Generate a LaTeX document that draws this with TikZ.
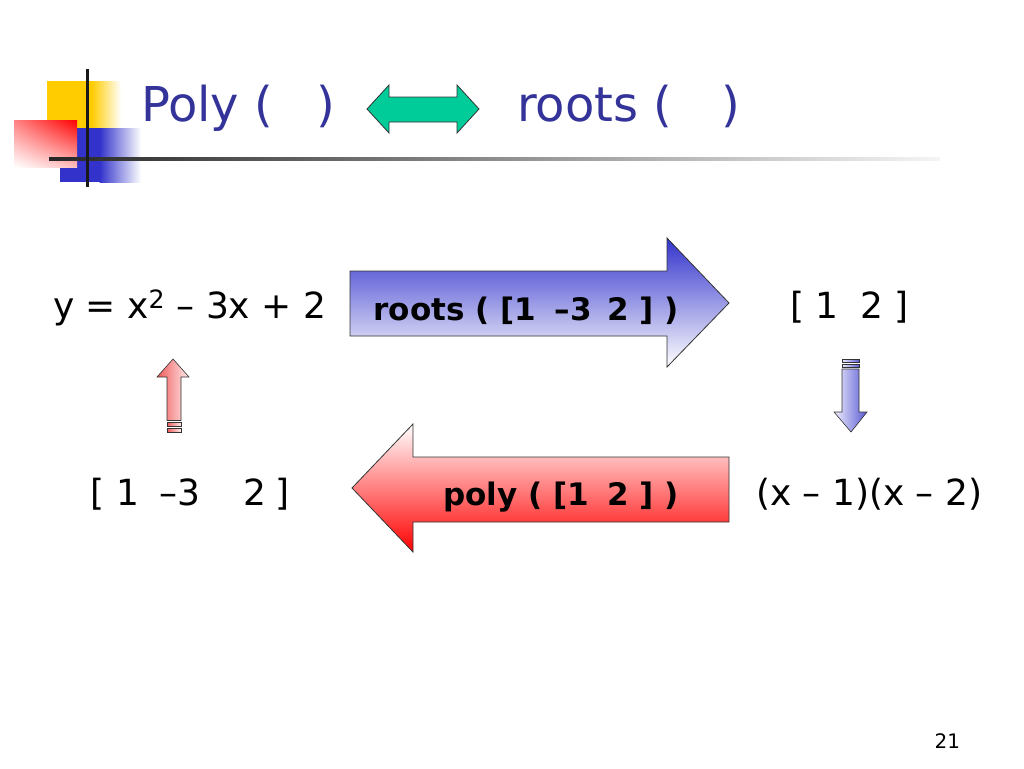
\documentclass[tikz,border=0pt]{standalone}
\usepackage{fontspec}
\usetikzlibrary{shadings}
\setmainfont{DejaVu Sans}
\definecolor{titleblue}{RGB}{51,51,153}
\definecolor{decoyellow}{RGB}{255,204,0}
\definecolor{decoblue}{RGB}{51,51,204}
\definecolor{decoredA}{RGB}{255,130,130}
\definecolor{decoredB}{RGB}{255,190,190}
\definecolor{greenarrow}{RGB}{0,204,153}
\definecolor{arrowblue}{RGB}{51,51,204}
\definecolor{smallred}{RGB}{240,90,90}
\definecolor{smallredlight}{RGB}{255,235,235}
\definecolor{smallblue}{RGB}{90,90,210}
\definecolor{smallbluelight}{RGB}{238,238,255}
\tikzset{
  txt/.style={inner sep=0pt, outer sep=0pt, anchor=base west, text=black},
  titletxt/.style={txt, text=titleblue, font=\fontsize{48}{57}\selectfont},
  mathtxt/.style={txt, font=\fontsize{36}{43}\selectfont},
  labeltxt/.style={txt, anchor=base east, font=\bfseries\fontsize{31}{37}\selectfont},
  blockarrow/.style={draw=black!80, line width=0.8pt, line join=miter},
}
\begin{document}
\begin{tikzpicture}[x=1pt,y=-1pt]
\useasboundingbox (0,0) rectangle (1024,768);
\fill[white] (0,0) rectangle (1024,768);
% --- decoration top-left
\fill[decoyellow] (47,81) rectangle (92,128);
\shade[left color=decoyellow, right color=white] (91.5,81) rectangle (121,128);
\fill[decoblue] (60,128) rectangle (100,182);
\shade[left color=decoblue, right color=white] (99.5,128) rectangle (141,182);
\shade[upper left=decoredA, upper right=red, lower left=white, lower right=decoredB]
  (14,120) rectangle (77,167);
\shade[left color=black!85, right color=black!4] (49,157.5) rectangle (940,160.5);
\fill[black!90] (85.5,69) rectangle (88.5,187);
% --- title
\node[titletxt] (polyt) at (141,121) {Poly (};
\node[titletxt, anchor=base east] (polyc) at (335,121) {)};
\draw[blockarrow, fill=greenarrow] (367,109) -- (389,85) -- (389,97) -- (457,97) -- (457,85)
  -- (479,109) -- (457,133) -- (457,122) -- (389,122) -- (389,133) -- cycle;
\node[titletxt] (rootst) at (517,121) {roots (};
\node[titletxt, anchor=base east] (rootsc) at (740,121) {)};
% --- big blue arrow
\draw[blockarrow, top color=arrowblue, bottom color=white]
  (350,271) -- (667,271) -- (667,238) -- (729,303) -- (667,367) -- (667,336) -- (350,336) -- cycle;
\node[labeltxt] (rootslbl) at (679,320) {roots ( [1\hspace{0.6em}–3\hspace{0.5em}2 ] )};
% --- big red arrow
\draw[blockarrow, top color=white, bottom color=red]
  (352,488) -- (413,424) -- (413,457) -- (729,457) -- (729,522) -- (413,522) -- (413,552) -- cycle;
\node[labeltxt] (polylbl) at (679,505) {poly ( [1\hspace{0.6em}2 ] )};
% --- texts
\node[mathtxt] (eq) at (53,318) {y = x\textsuperscript{2} – 3x + 2};
\node[mathtxt] (rts) at (790,318) {[\hspace{11pt}1\hspace{23pt}2\hspace{11pt}]};
\node[mathtxt] (coef) at (90,505) {[\hspace{12pt}1\hspace{21pt}–3\hspace{43pt}2\hspace{9pt}]};
\node[mathtxt] (fact) at (756,505) {(x – 1)(x – 2)};
\node[txt, anchor=base east, font=\fontsize{20}{24}\selectfont] (pg) at (960,748) {21};
% --- small up arrow
\draw[blockarrow, line width=0.6pt, left color=smallred, right color=smallredlight]
  (173,359) -- (189,377) -- (181,377) -- (181,420.5) -- (167,420.5) -- (167,377) -- (157,377) -- cycle;
\draw[blockarrow, line width=0.6pt, left color=smallred, right color=smallredlight] (167,422.5) rectangle (181,426);
\draw[blockarrow, line width=0.6pt, left color=smallred, right color=smallredlight] (167,428.5) rectangle (181,432);
% --- small down arrow
\draw[blockarrow, line width=0.6pt, left color=smallbluelight, right color=smallblue] (842,359) rectangle (859,362.5);
\draw[blockarrow, line width=0.6pt, left color=smallbluelight, right color=smallblue] (842,364.5) rectangle (859,367);
\draw[blockarrow, line width=0.6pt, left color=smallbluelight, right color=smallblue]
  (842,369) -- (859,369) -- (859,412) -- (867,412) -- (851,432) -- (834,412) -- (842,412) -- cycle;
\end{tikzpicture}
\end{document}
